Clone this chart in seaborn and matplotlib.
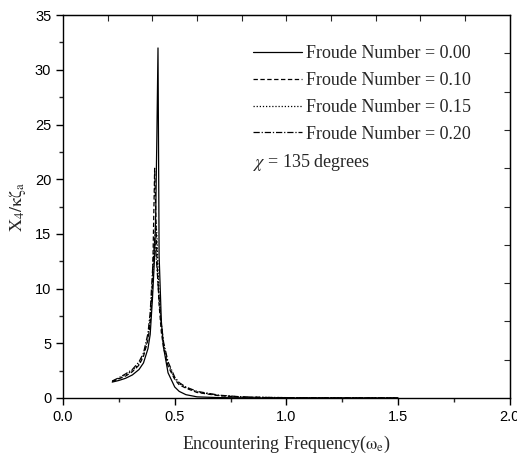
import numpy as np
import pandas as pd
import matplotlib
matplotlib.use("Agg")
import matplotlib.pyplot as plt
import seaborn as sns
from matplotlib.ticker import MultipleLocator

# Data
freq = [0.22, 0.25, 0.28, 0.31, 0.34, 0.36, 0.38, 0.39, 0.40, 0.41, 0.415, 0.42,
        0.425, 0.43, 0.44, 0.45, 0.47, 0.50, 0.52, 0.55, 0.60, 0.70, 0.80, 0.90,
        1.00, 1.20, 1.50]
fn000 = [1.45, 1.6, 1.8, 2.1, 2.6, 3.2, 4.5, 5.8, 9.0, 13.0, 17.0, 24.0,
         32.0, 13.0, 7.0, 4.6, 2.3, 1.0, 0.6, 0.3, 0.1, 0.03, 0.01, 0.0,
         0.0, 0.0, 0.0]
fn010 = [1.5, 1.75, 2.0, 2.4, 3.0, 3.8, 5.3, 6.8, 10.0, 21.0, 17.0, 13.0,
         10.5, 8.5, 6.0, 4.6, 2.9, 1.7, 1.2, 0.9, 0.5, 0.2, 0.08, 0.04,
         0.02, 0.01, 0.0]
fn015 = [1.5, 1.8, 2.1, 2.5, 3.1, 3.9, 5.5, 7.2, 10.5, 14.5, 16.0, 15.0,
         12.0, 9.5, 6.5, 4.9, 3.1, 1.8, 1.3, 0.95, 0.55, 0.22, 0.09, 0.05,
         0.03, 0.01, 0.0]
fn020 = [1.55, 1.85, 2.2, 2.6, 3.3, 4.1, 5.9, 7.8, 11.5, 14.5, 13.5, 12.0,
         10.5, 9.0, 6.8, 5.1, 3.3, 1.9, 1.4, 1.0, 0.6, 0.25, 0.1, 0.05,
         0.03, 0.01, 0.0]
series_labels = ["Froude Number = 0.00", "Froude Number = 0.10",
                 "Froude Number = 0.15", "Froude Number = 0.20"]
series_values = [fn000, fn010, fn015, fn020]
styles = ["-", (0, (3.5, 2)), (0, (1, 1.5)), (0, (5, 1.5, 1, 1.5))]

sns.set_style("white")
plt.rcParams['font.family'] = ['Liberation Sans', 'DejaVu Sans']
plt.rcParams['mathtext.fontset'] = 'stix'

fig = plt.figure(figsize=(5.17, 4.59), dpi=100)
ax = fig.add_axes([0.122, 0.133, 0.864, 0.834])

for lab, vals, ls in zip(series_labels, series_values, styles):
    df = pd.DataFrame({"freq": freq, "val": vals})
    sns.lineplot(data=df, x="freq", y="val", ax=ax, color="black",
                 linewidth=0.9, linestyle=ls, label=lab, sort=False)

ax.set_xlim(0, 2.0)
ax.set_ylim(0, 35)
ax.xaxis.set_major_locator(MultipleLocator(0.5))
ax.xaxis.set_minor_locator(MultipleLocator(0.25))
ax.yaxis.set_major_locator(MultipleLocator(5))
ax.yaxis.set_minor_locator(MultipleLocator(2.5))
ax.xaxis.set_major_formatter(matplotlib.ticker.FormatStrFormatter('%.1f'))
ax.tick_params(axis='both', which='major', direction='out', length=5, width=1,
               labelsize=10.5, bottom=True, left=True, colors='black')
ax.tick_params(axis='both', which='minor', direction='out', length=3, width=1,
               bottom=True, left=True)
for s in ax.spines.values():
    s.set_color('black')
    s.set_linewidth(1.0)

top = ax.secondary_xaxis('top')
top.set_xticks(np.arange(0.2, 2.0, 0.2))
top.tick_params(direction='in', length=4, labeltop=False)
right = ax.secondary_yaxis('right')
right.set_yticks(np.arange(3.5, 35, 3.5))
right.tick_params(direction='in', length=4, labelright=False)

ax.set_xlabel(r"Encountering Frequency($\mathrm{\omega_e}$)", family='Liberation Serif',
              fontsize=13, labelpad=7)
ax.set_ylabel(r"$\mathrm{X_4/\kappa\zeta_a}$", fontsize=13, labelpad=5)

leg = ax.legend(loc='upper left', bbox_to_anchor=(0.425, 0.922), frameon=False,
                prop={'family': 'Liberation Serif', 'size': 13},
                handlelength=2.7, handletextpad=0.25, labelspacing=0.55,
                borderaxespad=0, borderpad=0)
ax.text(0.425, 0.616, r"$\chi$ = 135 degrees", transform=ax.transAxes,
        family='Liberation Serif', fontsize=13, va='center', ha='left')

fig.savefig("out.png", dpi=100)
